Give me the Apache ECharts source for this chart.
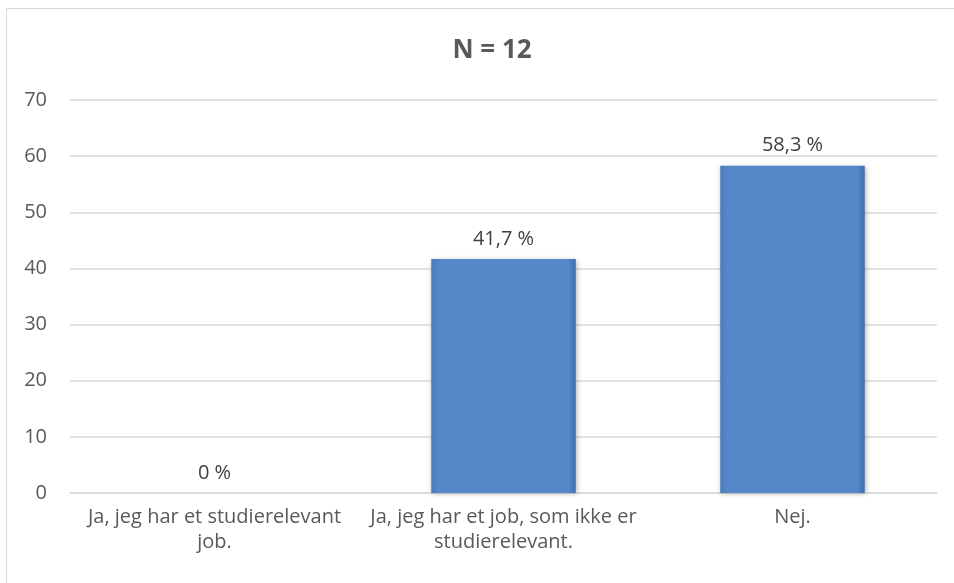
<!DOCTYPE html>
<html>
<head>
<meta charset="utf-8">
<script src="https://cdn.jsdelivr.net/npm/echarts@6/dist/echarts.min.js"></script>
<style>
html,body{margin:0;padding:0;background:#fff;}
#frame{position:absolute;left:6px;top:8px;width:960px;height:600px;border:1px solid #d9d9d9;box-sizing:border-box;}
#chart{position:absolute;left:0;top:0;width:954px;height:583px;}
</style>
</head>
<body>
<div id="frame"></div>
<div id="chart"></div>
<script>
const titleText = 'N = 12';
const categories = ['Ja, jeg har et studierelevant\njob.', 'Ja, jeg har et job, som ikke er\nstudierelevant.', 'Nej.'];
const values = [0, 41.7, 58.3];
const valueLabels = ['0 %', '41,7 %', '58,3 %'];
const yTicks = [0, 10, 20, 30, 40, 50, 60, 70];

const font = '"Open Sans", "Liberation Sans", sans-serif';
const chart = echarts.init(document.getElementById('chart'), null, {renderer: 'canvas'});
chart.setOption({
  animation: false,
  backgroundColor: 'transparent',
  title: {
    text: titleText,
    left: 487, top: 33, textAlign: 'center',
    textStyle: {fontFamily: font, fontSize: 26, fontWeight: 'bold', color: '#595959'}
  },
  grid: {left: 70, right: 17, top: 100, bottom: 90, containLabel: false},
  xAxis: {
    type: 'category',
    data: categories,
    axisLine: {show: true, lineStyle: {color: '#d9d9d9', width: 1.5}},
    axisTick: {show: false},
    axisLabel: {fontFamily: font, fontSize: 20, color: '#595959', margin: 12, lineHeight: 25, interval: 0}
  },
  yAxis: {
    type: 'value',
    min: yTicks[0], max: yTicks[yTicks.length - 1], interval: 10,
    axisLine: {show: false},
    axisTick: {show: false},
    splitLine: {lineStyle: {color: '#d9d9d9', width: 1.5}},
    axisLabel: {fontFamily: font, fontSize: 20, color: '#595959', margin: 23}
  },
  series: [{
    type: 'bar',
    data: values,
    barWidth: '50%',
    itemStyle: {
      color: new echarts.graphic.LinearGradient(0, 0, 1, 0, [
        {offset: 0, color: '#4a7bbb'},
        {offset: 0.05, color: '#5588c8'},
        {offset: 0.95, color: '#5588c8'},
        {offset: 1, color: '#3f6da8'}
      ]),
      borderWidth: 0,
      shadowColor: 'rgba(0,0,0,0.3)',
      shadowBlur: 5,
      shadowOffsetX: 1,
      shadowOffsetY: 1
    },
    label: {
      show: true,
      position: 'top',
      distance: 10,
      formatter: p => valueLabels[p.dataIndex],
      fontFamily: font, fontSize: 20, color: '#404040'
    }
  }]
});
</script>
</body>
</html>
